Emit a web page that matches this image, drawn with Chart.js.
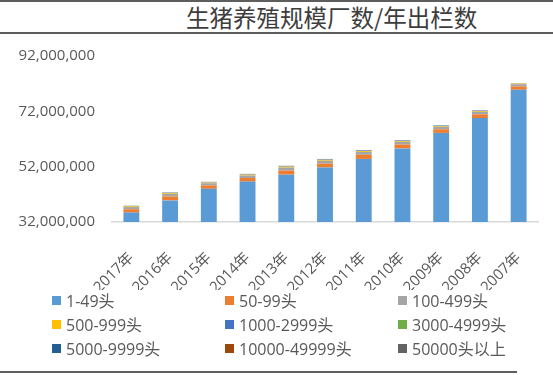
<!DOCTYPE html>
<html>
<head>
<meta charset="utf-8">
<script src="https://cdn.jsdelivr.net/npm/chart.js@4.4.1/dist/chart.umd.min.js"></script>
<style>
  body { margin: 0; background: #fff; }
  #wrap { position: relative; width: 553px; height: 375px; overflow: hidden; background: #fff;
          font-family: "Open Sans", "Noto Sans CJK SC", sans-serif; }
  .rule { position: absolute; left: 0; height: 2px; background: #5e5e5e; }
  #title { position: absolute; left: 186px; top: 5px; font-size: 23.5px; line-height: 24px; color: #3d3d3d;
           font-family: "Noto Sans CJK SC", sans-serif; white-space: nowrap; }
  #chart { position: absolute; left: 0; top: 30px; }
  #legend { position: absolute; left: 52px; top: 288px; display: grid;
            grid-template-columns: 173px 173px 173px; }
  .item { height: 24px; display: flex; align-items: center; font-size: 16px; color: #595959; white-space: nowrap; }
  .box { width: 9px; height: 9px; margin-right: 5px; flex: none; }
</style>
</head>
<body>
<div id="wrap">
  <div class="rule" style="top:0px;width:553px"></div>
  <div id="title">生猪养殖规模厂数/年出栏数</div>
  <div class="rule" style="top:32px;width:553px"></div>
  <canvas id="chart" width="553" height="260"></canvas>
  <div id="legend"></div>
  <div class="rule" style="top:371px;width:517px"></div>
</div>
<script>
const years = ["2017年", "2016年", "2015年", "2014年", "2013年", "2012年", "2011年", "2010年", "2009年", "2008年", "2007年"];

const s1_49 = [35400000, 39800000, 44000000, 46600000, 49100000, 51700000, 54800000, 58600000, 64200000, 69600000, 79800000];
const s50_99 = [1200000, 1400000, 1200000, 1300000, 1500000, 1400000, 1500000, 1400000, 1300000, 1300000, 1200000];
const s100_499 = [800000, 950000, 800000, 900000, 1050000, 1050000, 1050000, 1000000, 950000, 950000, 800000];
const s500_999 = [250000, 270000, 250000, 300000, 330000, 320000, 320000, 300000, 270000, 280000, 240000];
const s1000_2999 = [150000, 170000, 160000, 180000, 190000, 190000, 200000, 180000, 170000, 160000, 100000];
const s3000_4999 = [50000, 60000, 50000, 60000, 70000, 70000, 70000, 60000, 60000, 50000, 30000];
const s5000_9999 = [30000, 30000, 30000, 30000, 40000, 40000, 40000, 40000, 30000, 30000, 20000];
const s10000_49999 = [20000, 20000, 20000, 20000, 20000, 20000, 20000, 20000, 20000, 20000, 10000];
const s50000up = [3000, 3000, 3000, 3000, 3000, 3000, 2000, 2000, 2000, 2000, 1000];

const seriesNames = ["1-49头", "50-99头", "100-499头", "500-999头", "1000-2999头", "3000-4999头", "5000-9999头", "10000-49999头", "50000头以上"];
const seriesData = [s1_49, s50_99, s100_499, s500_999, s1000_2999, s3000_4999, s5000_9999, s10000_49999, s50000up];
const seriesColors = ["#5B9BD5", "#ED7D31", "#A5A5A5", "#FFC000", "#4472C4", "#70AD47", "#255E91", "#9E480E", "#636363"];

const yMin = 32000000, yMax = 92000000, yStep = 20000000;

const fontFamily = "'Open Sans', 'Noto Sans CJK SC', sans-serif";

const chart = new Chart(document.getElementById("chart"), {
    type: "bar",
    data: {
        labels: years,
        datasets: seriesNames.map((name, i) => ({
            label: name,
            data: seriesData[i],
            backgroundColor: seriesColors[i],
            borderWidth: 0,
            categoryPercentage: 1,
            barPercentage: 0.41
        }))
    },
    options: {
        responsive: false,
        animation: false,
        devicePixelRatio: 1,
        layout: { padding: { top: 25, left: 18, right: 15, bottom: 0 } },
        plugins: {
            legend: { display: false },
            tooltip: { enabled: false }
        },
        scales: {
            x: {
                stacked: true,
                grid: { display: false, drawTicks: false },
                border: { display: true, color: "#d9d9d9", width: 1.5 },
                ticks: { color: "#595959", font: { family: fontFamily, size: 15 }, minRotation: 45, maxRotation: 45, padding: 27 },
                // fixed axis height, and no extra side room for the rotated labels
                afterFit: s => { s.height = 68; s.paddingLeft = 0; s.paddingRight = 0; }
            },
            y: {
                stacked: true,
                min: yMin,
                max: yMax,
                grid: { display: false, drawTicks: false },
                border: { display: false },
                ticks: {
                    stepSize: yStep,
                    color: "#595959",
                    font: { family: fontFamily, size: 15 },
                    padding: 17,
                    callback: v => v.toLocaleString("en-US")
                },
                afterFit: s => { s.width = 94; }
            }
        }
    }
});

const legend = document.getElementById("legend");
seriesNames.forEach((name, i) => {
    const item = document.createElement("div");
    item.className = "item";
    const box = document.createElement("span");
    box.className = "box";
    box.style.background = seriesColors[i];
    item.appendChild(box);
    item.appendChild(document.createTextNode(name));
    legend.appendChild(item);
});
</script>
</body>
</html>
